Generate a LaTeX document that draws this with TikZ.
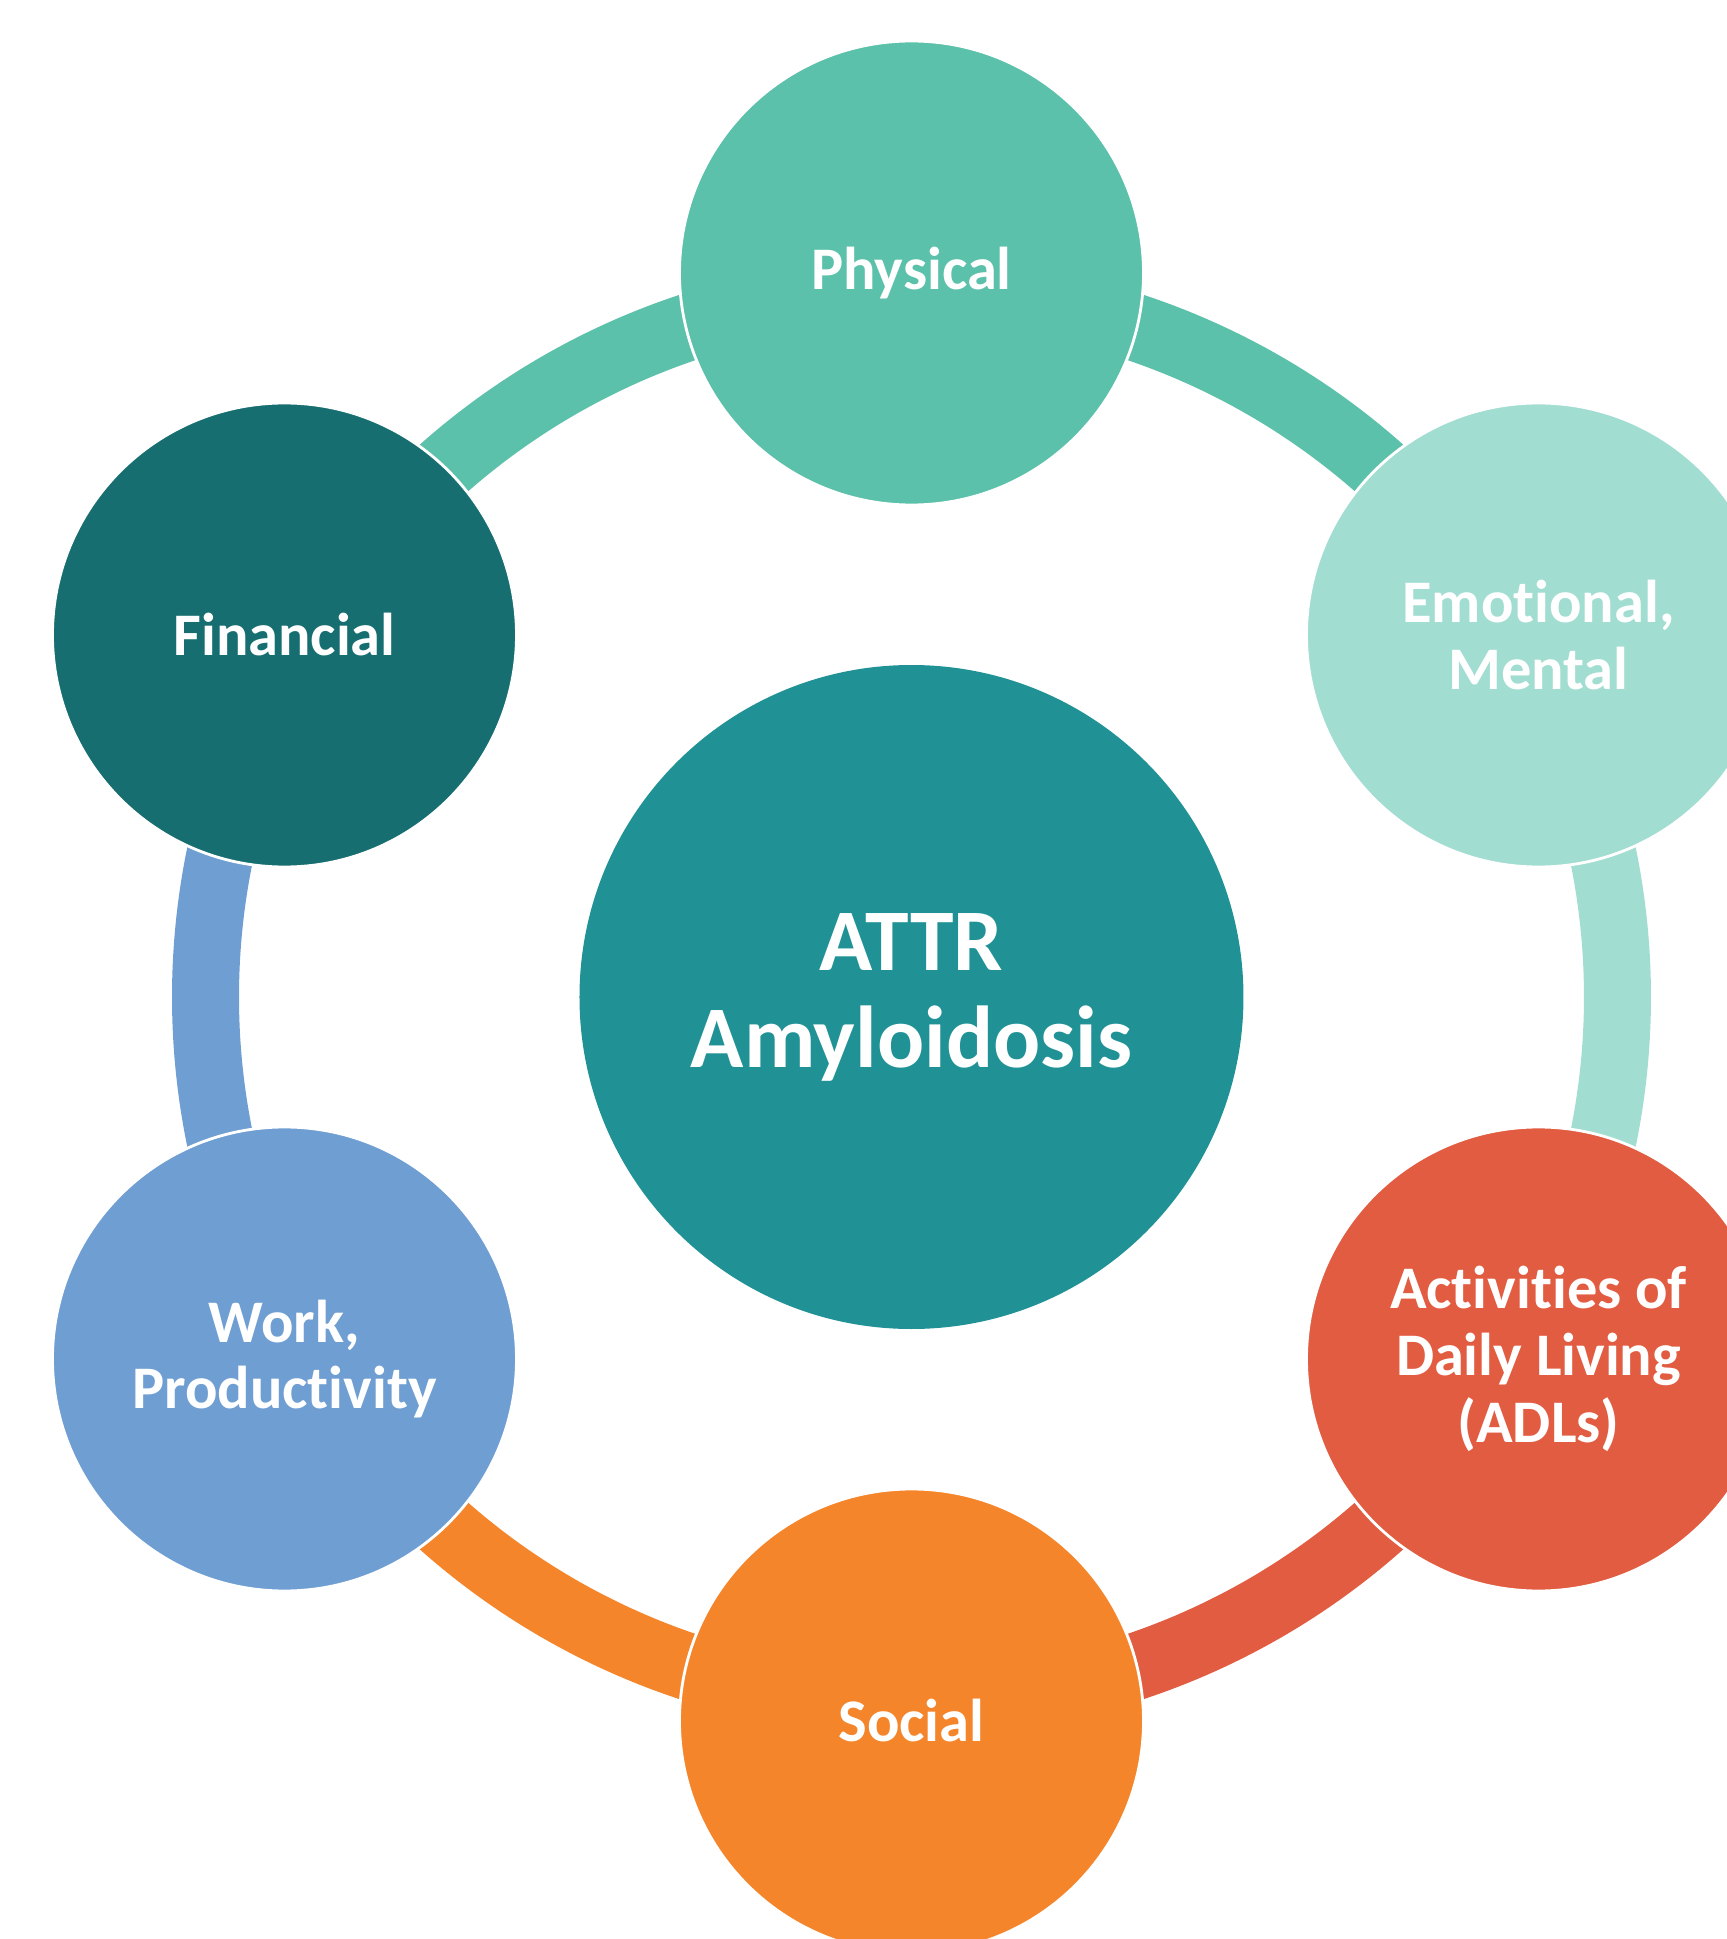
\documentclass[tikz,border=0pt]{standalone}
\usepackage{fontspec}
\setmainfont[Ligatures={NoCommon,NoRare}]{Carlito}
\usepackage{tikz}
\usetikzlibrary{positioning}

\definecolor{physcol}{HTML}{5BC1AA}
\definecolor{emocol}{HTML}{A2DDD2}
\definecolor{adlcol}{HTML}{E25C42}
\definecolor{soccol}{HTML}{F5852A}
\definecolor{workcol}{HTML}{6F9ED3}
\definecolor{fincol}{HTML}{176E70}
\definecolor{hubcol}{HTML}{209296}

\begin{document}
\begin{tikzpicture}
            \tikzstyle{topic}=[circle, minimum size = 46.4mm, inner sep=0pt, draw = white, line width = 0.8pt, text = white, align = center, font = \fontsize{17.2}{19}\selectfont\bfseries]
            \tikzstyle{hub}=[circle, minimum size = 66.4mm, inner sep=0pt, fill = hubcol, text = white, align = center, font = \fontsize{25}{27.6}\selectfont\bfseries]
            \tikzstyle{link}=[line width = 6.7mm]
            \useasboundingbox (-9.115,-9.42) rectangle (8.155,9.97);

            % points on the ring, one per topic
            \coordinate (rPhys) at (90:7.06);
            \coordinate (rEmo) at (30:7.06);
            \coordinate (rADL) at (-30:7.06);
            \coordinate (rSoc) at (-90:7.06);
            \coordinate (rWork) at (-150:7.06);
            \coordinate (rFin) at (150:7.06);

            % ring segments, drawn first so the circles sit on top
            \draw[link, physcol] (rPhys) arc[start angle=90, end angle=30, radius=7.06];
            \draw[link, emocol] (rEmo) arc[start angle=30, end angle=-30, radius=7.06];
            \draw[link, adlcol] (rADL) arc[start angle=-30, end angle=-90, radius=7.06];
            \draw[link, soccol] (rSoc) arc[start angle=-90, end angle=-150, radius=7.06];
            \draw[link, workcol] (rWork) arc[start angle=-150, end angle=-210, radius=7.06];
            \draw[link, physcol] (rFin) arc[start angle=150, end angle=90, radius=7.06];

            \node[hub] (ATTR) at (0,0){ATTR\\Amyloidosis};
            \node[topic, fill = physcol] (Phys) at (90:7.24){Physical};
            \node[topic, fill = emocol] (Emo) at (30:7.24){Emotional,\\Mental};
            \node[topic, fill = adlcol] (ADL) at (-30:7.24){Activities of\\Daily Living\\(ADLs)};
            \node[topic, fill = soccol] (Soc) at (-90:7.24){Social};
            \node[topic, fill = workcol] (Work) at (-150:7.24){Work,\\Productivity};
            \node[topic, fill = fincol] (Fin) at (150:7.24){Financial};

        \end{tikzpicture}
\end{document}
